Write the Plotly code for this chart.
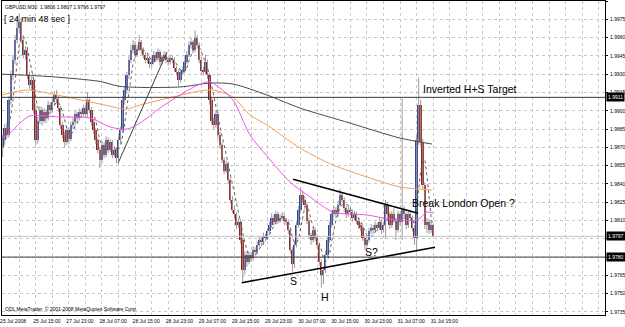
import plotly.graph_objects as go
import pandas as pd

# ---- OHLC data, GBPUSD M30, values as 1.9xxx written in pips (9876 -> 1.9876) ----
opens = [9870,9876,9886,9880,9909,9929,9942,9958,9968,9973,9958,9946,9950,9929,9921,9925,9901,9876,9892,9901,
         9892,9899,9894,9905,9901,9907,9913,9910,9902,9888,9880,9874,9884,9877,9888,9891,9897,9894,9899,9897,
         9902,9897,9909,9901,9891,9884,9876,9868,9860,9872,9864,9876,9868,9874,9864,9868,9861,9876,9884,9909,
         9917,9929,9942,9950,9954,9946,9951,9956,9950,9946,9942,9943,9938,9940,9946,9943,9948,9940,9943,9946,
         9942,9940,9943,9942,9935,9932,9925,9932,9933,9940,9946,9954,9956,9950,9960,9954,9942,9933,9932,9940,
         9929,9909,9892,9888,9897,9880,9872,9860,9851,9856,9843,9827,9819,9815,9806,9809,9794,9769,9782,9776,
         9782,9779,9786,9784,9790,9794,9792,9797,9796,9801,9806,9812,9809,9815,9810,9812,9814,9810,9809,9802,
         9786,9774,9790,9806,9819,9831,9827,9823,9810,9798,9794,9802,9796,9790,9776,9765,9769,9782,9794,9806,
         9815,9819,9815,9823,9831,9827,9820,9815,9819,9817,9812,9815,9810,9806,9804,9796,9790,9794,9801,9804,
         9802,9806,9804,9809,9802,9806,9823,9815,9806,9815,9810,9802,9815,9809,9819,9815,9806,9815,9812,9804,
         9796,9876,9905,9874,9839,9806,9809,9802,9806]
highs = [9880,9889,9890,9912,9933,9946,9962,9977,9979,9976,9962,9953,9952,9932,9928,9927,9904,9895,9904,9903,
         9902,9901,9908,9907,9910,9916,9917,9912,9904,9891,9883,9887,9886,9891,9894,9900,9899,9902,9901,9905,
         9904,9915,9911,9903,9893,9886,9878,9870,9875,9874,9879,9878,9877,9876,9871,9870,9879,9887,9912,9920,
         9932,9945,9954,9958,9957,9954,9962,9958,9952,9948,9946,9945,9943,9949,9948,9951,9950,9946,9949,9948,
         9944,9946,9945,9944,9937,9934,9934,9936,9943,9949,9957,9960,9958,9966,9962,9956,9944,9936,9946,9942,
         9931,9911,9895,9900,9899,9883,9874,9862,9859,9858,9845,9830,9822,9817,9812,9811,9796,9785,9784,9785,
         9784,9789,9788,9793,9797,9796,9800,9799,9804,9809,9816,9814,9818,9817,9815,9817,9816,9812,9811,9804,
         9788,9793,9809,9822,9837,9834,9830,9825,9812,9800,9805,9804,9798,9792,9778,9772,9785,9797,9809,9818,
         9822,9821,9826,9836,9833,9829,9822,9822,9821,9819,9818,9817,9812,9808,9806,9798,9797,9804,9807,9806,
         9809,9808,9812,9811,9809,9827,9825,9817,9818,9820,9812,9818,9817,9910,9822,9817,9818,9818,9814,9806,
         9880,9927,9909,9877,9841,9812,9811,9810,9807]
lows = [9862,9872,9877,9878,9905,9925,9938,9955,9964,9955,9943,9942,9926,9918,9917,9898,9872,9873,9889,9888,
        9890,9890,9892,9897,9898,9904,9906,9899,9885,9877,9870,9872,9873,9875,9885,9888,9890,9892,9894,9895,
        9894,9895,9898,9888,9881,9873,9865,9853,9857,9861,9862,9865,9866,9861,9862,9857,9859,9873,9882,9905,
        9914,9926,9939,9947,9943,9944,9949,9947,9943,9939,9939,9935,9936,9938,9940,9941,9937,9938,9941,9939,
        9937,9938,9939,9932,9929,9920,9923,9930,9931,9938,9944,9951,9947,9948,9951,9939,9930,9929,9930,9926,
        9905,9889,9885,9886,9877,9869,9857,9848,9849,9840,9824,9816,9812,9803,9804,9791,9760,9766,9772,9774,
        9776,9777,9781,9782,9788,9789,9790,9793,9794,9799,9804,9806,9807,9807,9808,9810,9807,9806,9799,9783,
        9768,9771,9788,9804,9817,9824,9819,9807,9795,9790,9792,9793,9787,9773,9755,9758,9767,9780,9792,9804,
        9813,9812,9813,9821,9824,9817,9812,9813,9814,9809,9810,9807,9803,9801,9793,9786,9788,9792,9799,9799,
        9800,9801,9802,9799,9800,9795,9812,9803,9804,9808,9794,9800,9806,9794,9812,9803,9804,9810,9801,9790,
        9784,9872,9870,9836,9803,9800,9799,9800,9796]
closes = [9876,9886,9880,9909,9929,9942,9958,9968,9973,9958,9946,9950,9929,9921,9925,9901,9876,9892,9901,9892,
          9899,9894,9905,9901,9907,9913,9910,9902,9888,9880,9874,9884,9877,9888,9891,9897,9894,9899,9897,9902,
          9897,9909,9901,9891,9884,9876,9868,9860,9872,9864,9876,9868,9874,9864,9868,9861,9876,9884,9909,9917,
          9929,9942,9950,9954,9946,9951,9956,9950,9946,9942,9943,9938,9940,9946,9943,9948,9940,9943,9946,9942,
          9940,9943,9942,9935,9932,9925,9932,9933,9940,9946,9954,9956,9950,9960,9954,9942,9933,9932,9940,9929,
          9909,9892,9888,9897,9880,9872,9860,9851,9856,9843,9827,9819,9815,9806,9809,9794,9769,9782,9776,9782,
          9779,9786,9784,9790,9794,9792,9797,9796,9801,9806,9812,9809,9815,9810,9812,9814,9810,9809,9802,9786,
          9774,9790,9806,9819,9831,9827,9823,9810,9798,9794,9802,9796,9790,9776,9765,9769,9782,9794,9806,9815,
          9819,9815,9823,9831,9827,9820,9815,9819,9817,9812,9815,9810,9806,9804,9796,9790,9794,9801,9804,9802,
          9806,9804,9809,9802,9806,9823,9815,9806,9815,9810,9802,9815,9809,9819,9815,9806,9815,9812,9804,9796,
          9876,9905,9874,9839,9806,9809,9802,9806,9797]

time_labels = ["25 Jul 2008", "25 Jul 15:00", "27 Jul 23:00", "28 Jul 07:00", "28 Jul 15:00",
               "28 Jul 23:00", "29 Jul 07:00", "29 Jul 15:00", "29 Jul 23:00", "30 Jul 07:00",
               "30 Jul 15:00", "30 Jul 23:00", "31 Jul 07:00", "31 Jul 15:00"]

# moving averages (bar position, price)
ma_gray_x = [-0.3, 22.9, 47.1, 56.7, 85.7, 100.2, 111.3, 127.7, 143.7, 167.8, 192.0, 207.4]
ma_gray_y = [1.9930, 1.9928, 1.9924, 1.9920, 1.99195, 1.99227, 1.99219, 1.99129, 1.99022, 1.98899, 1.98776, 1.98727]
ma_orange_x = [-0.3, 11.8, 26.3, 47.1, 60.1, 66.4, 84.2, 95.4, 101.6, 111.3, 119.5, 127.7, 143.7, 159.6, 176.0, 192.0, 207.4]
ma_orange_y = [1.99129, 1.99170, 1.99129, 1.99055, 1.99014, 1.99047, 1.99121, 1.99162, 1.99170, 1.99113, 1.98965,
               1.98883, 1.98694, 1.98555, 1.98457, 1.98375, 1.98350]
ma_pink_x = [-0.3, 3.6, 8.4, 13.2, 27.7, 42.2, 51.9, 60.1, 66.4, 76.0, 85.7, 95.4, 100.2, 105.0, 111.3, 119.5,
             127.7, 138.8, 148.5, 159.6, 176.0, 187.1, 200.2, 205.0, 207.9]
ma_pink_y = [1.98776, 1.98817, 1.98899, 1.98957, 1.98949, 1.98940, 1.98867, 1.98850, 1.98899, 1.99022, 1.99129,
             1.99219, 1.99236, 1.99186, 1.99088, 1.98801, 1.98629, 1.98416, 1.98293, 1.98170, 1.98145, 1.98112,
             1.98104, 1.98170, 1.98162]

# drawn objects
trend_upper_x = [140.3, 200.7]
trend_upper_y = [1.98438, 1.98159]
trend_lower_x = [115.5, 208.9]
trend_lower_y = [1.97590, 1.97880]
trend_thin_x = [55.8, 79.4]
trend_thin_y = [1.98571, 1.99482]
levels = [1.9911, 1.9780]
bid = 1.9797

# ---- build ----
def px(v):
    return 1 + v / 10000.0

O = [px(v) for v in opens]
H = [px(v) for v in highs]
L = [px(v) for v in lows]
C = [px(v) for v in closes]
n = len(C)
idx = list(range(n))

fig = go.Figure()

# wicks
wx, wy = [], []
for i in idx:
    wx += [i, i, None]
    wy += [L[i], H[i], None]
fig.add_trace(go.Scatter(x=wx, y=wy, mode="lines", line=dict(color="#9a9a9a", width=1),
                         hoverinfo="skip", showlegend=False))

# bodies
minh = 0.00004
for up in (True, False):
    xs, base, hgt = [], [], []
    for i in idx:
        if (C[i] >= O[i]) == up:
            lo = min(O[i], C[i])
            xs.append(i)
            base.append(lo)
            hgt.append(max(abs(C[i] - O[i]), minh))
    fig.add_trace(go.Bar(x=xs, y=hgt, base=base, width=0.85,
                         marker=dict(color="#34459c" if up else "#9b1c1c", line=dict(width=0)),
                         showlegend=False, hoverinfo="skip"))

# short dotted MA
ma_fast = pd.Series(C).rolling(5, min_periods=1).mean()
fig.add_trace(go.Scatter(x=idx, y=ma_fast, mode="lines", line=dict(color="#606060", width=1, dash="dot"),
                         showlegend=False, hoverinfo="skip"))

for xs, ys, col in [(ma_gray_x, ma_gray_y, "#4a4a4a"), (ma_orange_x, ma_orange_y, "#f5a050"),
                    (ma_pink_x, ma_pink_y, "#ee55ee")]:
    fig.add_trace(go.Scatter(x=xs, y=ys, mode="lines", line=dict(color=col, width=1, shape="spline", smoothing=0.8),
                             showlegend=False, hoverinfo="skip"))

for xs, ys, w, col in [(trend_upper_x, trend_upper_y, 1.6, "#000000"),
                       (trend_lower_x, trend_lower_y, 1.6, "#000000"),
                       (trend_thin_x, trend_thin_y, 1, "#404040")]:
    fig.add_trace(go.Scatter(x=xs, y=ys, mode="lines", line=dict(color=col, width=w),
                             showlegend=False, hoverinfo="skip"))

shapes = []
for lv in levels:
    shapes.append(dict(type="line", xref="paper", yref="y", x0=0, x1=1, y0=lv, y1=lv,
                       line=dict(color="#3c3c3c", width=1)))
shapes.append(dict(type="line", xref="paper", yref="y", x0=0, x1=1, y0=bid, y1=bid,
                   line=dict(color="#c4c4c4", width=1)))

FONT = "Liberation Sans, Arial, sans-serif"
ann = []
for lv in levels + [bid]:
    ann.append(dict(xref="paper", yref="y", x=1, y=lv, xanchor="left", yanchor="middle", xshift=1,
                    text="%.4f" % lv, showarrow=False, bgcolor="#000000",
                    font=dict(family=FONT, size=5, color="#ffffff"), borderpad=1))

ann += [
    dict(xref="paper", yref="paper", x=0.002, y=0.997, xanchor="left", yanchor="top", showarrow=False,
         text="GBPUSD,M30  1.9806 1.9807 1.9796 1.9797", font=dict(family=FONT, size=5, color="#000000")),
    dict(xref="paper", yref="paper", x=0.0, y=0.965, xanchor="left", yanchor="top", showarrow=False,
         text="[ 24 min 48 sec ]", font=dict(family=FONT, size=9, color="#000000")),
    dict(xref="paper", yref="paper", x=0.002, y=0.004, xanchor="left", yanchor="bottom", showarrow=False,
         text="ODL MetaTrader, © 2001-2008 MetaQuotes Software Corp.", font=dict(family=FONT, size=5, color="#000000")),
    dict(x=202.1, y=1.99178, xanchor="left", yanchor="middle", showarrow=False,
         text="Inverted H+S Target", font=dict(family=FONT, size=10.5, color="#000000")),
    dict(x=196.9, y=1.98243, xanchor="left", yanchor="middle", showarrow=False,
         text="Break London Open ?", font=dict(family=FONT, size=10.5, color="#000000")),
    dict(x=140.3, y=1.97604, xanchor="center", yanchor="middle", showarrow=False,
         text="S", font=dict(family=FONT, size=10.5, color="#000000")),
    dict(x=155.8, y=1.97473, xanchor="center", yanchor="middle", showarrow=False,
         text="H", font=dict(family=FONT, size=10.5, color="#000000")),
    dict(x=178.4, y=1.97842, xanchor="center", yanchor="middle", showarrow=False,
         text="S?", font=dict(family=FONT, size=10.5, color="#000000")),
]

xtv = list(range(0, 290, 8))
xtt = [time_labels[v // 16] if (v % 16 == 0 and v // 16 < len(time_labels)) else "" for v in xtv]
ytv = [round(1.9735 + 0.0015 * k, 4) for k in range(18)]
# labels covered by the price boxes on the right are left blank
ytt = ["" if v in (1.9780, 1.9795) else "%.4f" % v for v in ytv]

fig.update_layout(
    width=625, height=327, margin=dict(l=2, r=20, t=1, b=12, autoexpand=False),
    paper_bgcolor="#ffffff", plot_bgcolor="#ffffff",
    barmode="overlay", bargap=0, showlegend=False,
    shapes=shapes, annotations=ann,
    font=dict(family=FONT, color="#000000"),
    xaxis=dict(range=[-0.3, 291.0], tickvals=xtv, ticktext=xtt, showgrid=True, gridcolor="#c8c8c8",
               griddash="dot", gridwidth=1, zeroline=False, showline=True, linecolor="#000000", linewidth=1,
               mirror=True, ticks="", tickangle=0, automargin=False, tickfont=dict(size=5, color="#000000"),
               ticklabelposition="outside right", ticklabelshift=-3, ticklabelstandoff=1),
    yaxis=dict(range=[1.97325, 1.99900], side="right", tickvals=ytv, ticktext=ytt,
               showgrid=True, gridcolor="#c8c8c8", griddash="dot", gridwidth=1, zeroline=False,
               showline=True, linecolor="#000000", linewidth=1, mirror=True, ticks="outside", ticklen=2,
               automargin=False, tickcolor="#000000", tickfont=dict(size=5, color="#000000"),
               ticklabelstandoff=1),
)

fig.write_html("out.html")
